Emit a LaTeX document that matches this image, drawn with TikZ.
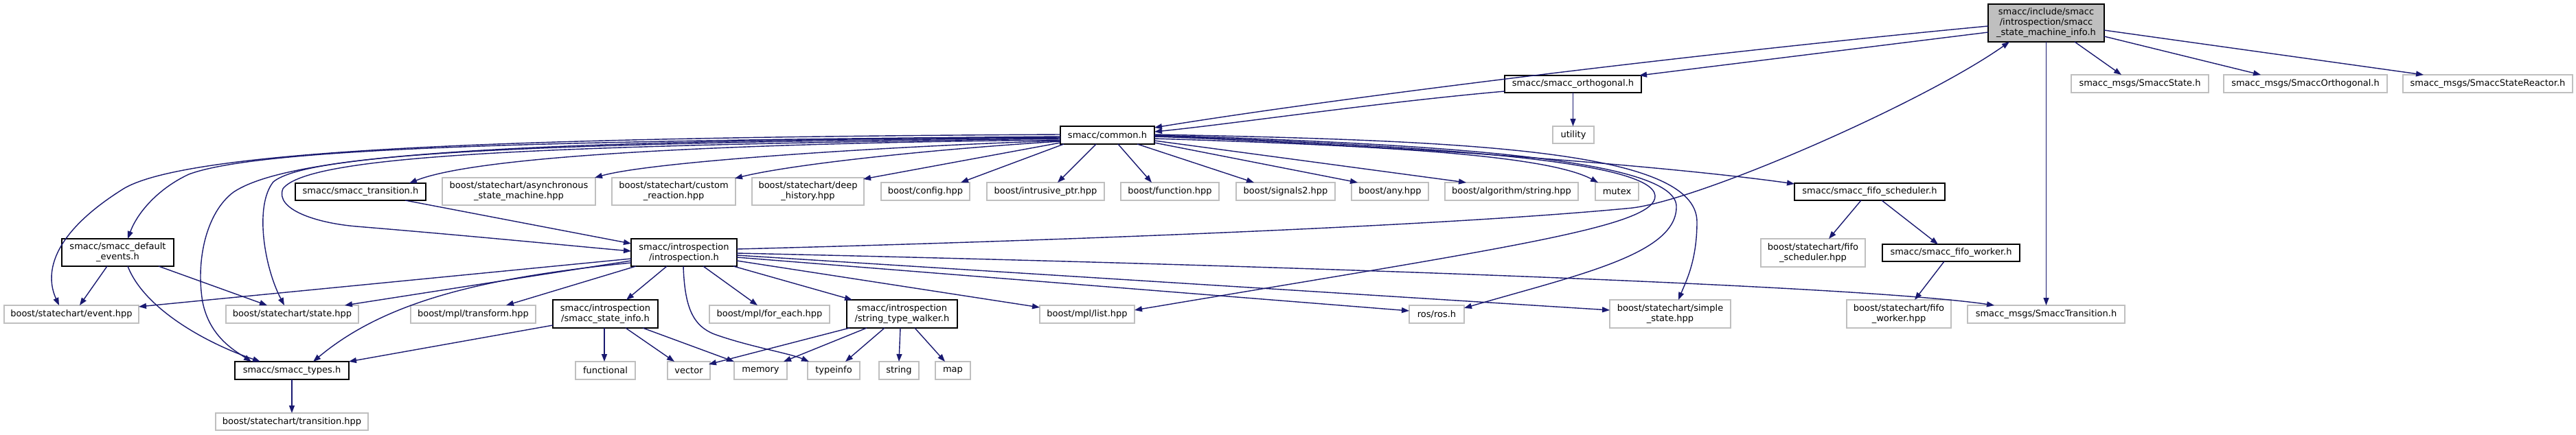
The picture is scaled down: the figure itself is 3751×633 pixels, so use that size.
\documentclass[tikz,border=0pt]{standalone}
\usepackage{fontspec}
\newfontfamily\dv{DejaVu Sans}
\usetikzlibrary{arrows.meta,calc}
\definecolor{edgeblue}{HTML}{191970}
\definecolor{extgray}{HTML}{BFBFBF}
\definecolor{mainfill}{HTML}{BFBFBF}
\tikzset{
  box/.style={anchor=north west, align=center, inner sep=0pt, outer sep=0pt,
    font={\dv\fontsize{13}{15}\selectfont}, fill=white},
  proj/.style={box, draw=black, line width=1.5pt},
  ext/.style={box, draw=extgray, line width=1.5pt},
  dep/.style={draw=edgeblue, line width=1.4pt, -{Triangle[length=11pt,width=8pt]}}
}
\begin{document}
\begin{tikzpicture}[x=1pt,y=-1pt]
\fill[white] (0,0) rectangle (3751,633);
\useasboundingbox (0,0) rectangle (3751,633);
% row 0
\node[proj, fill=mainfill, minimum width=169, minimum height=55] (main) at (2895,6) {smacc/include/smacc\\/introspection/smacc\\\_state\_machine\_info.h};
% row 1
\node[proj, minimum width=199, minimum height=25] (orth) at (2191,110) {smacc/smacc\_orthogonal.h};
\node[ext, minimum width=200, minimum height=26] (msgstate) at (3016,109) {smacc\_msgs/SmaccState.h};
\node[ext, minimum width=238, minimum height=26] (msgorth) at (3238,109) {smacc\_msgs/SmaccOrthogonal.h};
\node[ext, minimum width=247, minimum height=26] (msgreact) at (3499,109) {smacc\_msgs/SmaccStateReactor.h};
% row 2
\node[ext, minimum width=60, minimum height=25] (utility) at (2261,184) {utility};
\node[proj, minimum width=137, minimum height=26] (common) at (1544,184) {smacc/common.h};
% row 3
\node[proj, minimum width=190, minimum height=25] (transh) at (430,267) {smacc/smacc\_transition.h};
\node[ext, minimum width=223, minimum height=40] (async) at (644,259) {boost/statechart/asynchronous\\\_state\_machine.hpp};
\node[ext, minimum width=180, minimum height=40] (custom) at (891,259) {boost/statechart/custom\\\_reaction.hpp};
\node[ext, minimum width=163, minimum height=40] (deep) at (1095,259) {boost/statechart/deep\\\_history.hpp};
\node[ext, minimum width=129, minimum height=26] (config) at (1283,266) {boost/config.hpp};
\node[ext, minimum width=171, minimum height=26] (intrusive) at (1437,266) {boost/intrusive\_ptr.hpp};
\node[ext, minimum width=143, minimum height=26] (function) at (1632,266) {boost/function.hpp};
\node[ext, minimum width=144, minimum height=26] (signals) at (1800,266) {boost/signals2.hpp};
\node[ext, minimum width=112, minimum height=26] (any) at (1968,266) {boost/any.hpp};
\node[ext, minimum width=194, minimum height=26] (algo) at (2104,266) {boost/algorithm/string.hpp};
\node[ext, minimum width=63, minimum height=26] (mutex) at (2323,266) {mutex};
\node[proj, minimum width=219, minimum height=25] (fschedh) at (2613,267) {smacc/smacc\_fifo\_scheduler.h};
% row 4
\node[proj, minimum width=163, minimum height=40] (devents) at (90,348) {smacc/smacc\_default\\\_events.h};
\node[proj, minimum width=154, minimum height=40] (intro) at (919,348) {smacc/introspection\\/introspection.h};
\node[ext, minimum width=152, minimum height=41] (fschedhpp) at (2564,348) {boost/statechart/fifo\\\_scheduler.hpp};
\node[proj, minimum width=200, minimum height=25] (fworkh) at (2741,356) {smacc/smacc\_fifo\_worker.h};
% row 5
\node[ext, minimum width=196, minimum height=26] (event) at (6,445) {boost/statechart/event.hpp};
\node[ext, minimum width=193, minimum height=26] (state) at (329,445) {boost/statechart/state.hpp};
\node[ext, minimum width=182, minimum height=26] (transform) at (598,445) {boost/mpl/transform.hpp};
\node[proj, minimum width=153, minimum height=41] (stinfo) at (805,437) {smacc/introspection\\/smacc\_state\_info.h};
\node[ext, minimum width=175, minimum height=26] (foreach) at (1033,445) {boost/mpl/for\_each.hpp};
\node[proj, minimum width=161, minimum height=41] (walker) at (1233,437) {smacc/introspection\\/string\_type\_walker.h};
\node[ext, minimum width=138, minimum height=26] (list) at (1514,445) {boost/mpl/list.hpp};
\node[ext, minimum width=80, minimum height=26] (ros) at (2052,445) {ros/ros.h};
\node[ext, minimum width=176, minimum height=41] (simple) at (2344,437) {boost/statechart/simple\\\_state.hpp};
\node[ext, minimum width=152, minimum height=41] (fworkhpp) at (2689,437) {boost/statechart/fifo\\\_worker.hpp};
\node[ext, minimum width=229, minimum height=26] (smtrans) at (2865,445) {smacc\_msgs/SmaccTransition.h};
% row 6
\node[proj, minimum width=166, minimum height=26] (types) at (342,527) {smacc/smacc\_types.h};
\node[ext, minimum width=87, minimum height=26] (functional) at (838,527) {functional};
\node[ext, minimum width=62, minimum height=26] (vector) at (972,527) {vector};
\node[ext, minimum width=77, minimum height=26] (memory) at (1069,527) {memory};
\node[ext, minimum width=76, minimum height=26] (typeinfo) at (1176,527) {typeinfo};
\node[ext, minimum width=58, minimum height=26] (string) at (1280,527) {string};
\node[ext, minimum width=51, minimum height=26] (map) at (1362,527) {map};
% row 7
\node[ext, minimum width=222, minimum height=25] (trhpp) at (314,602) {boost/statechart/transition.hpp};

% ---- edges from main
\draw[dep] ($(main.north west)+(0,41)$) -- ($(orth.north west)+(196,0)$);
\draw[dep] ($(main.north west)+(0,32)$) .. controls (2400,85) and (1900,150) .. ($(common.north west)+(137,2)$);
\draw[dep] ($(main.north west)+(126,55)$) -- ($(msgstate.north west)+(73,0)$);
\draw[dep] ($(main.north west)+(169,47)$) -- ($(msgorth.north west)+(54,0)$);
\draw[dep] ($(main.north west)+(169,38)$) -- ($(msgreact.north west)+(30,0)$);
\draw[dep] (main.south) -- (smtrans.north);
% ---- orthogonal
\draw[dep] ($(orth.north west)+(0,23)$) .. controls (2000,150) and (1800,180) .. ($(common.north west)+(137,8)$);
\draw[dep] (orth.south) -- (orth.south |- utility.north);
% ---- common to the left
\draw[dep] ($(common.north west)+(0,12)$) .. controls (800,200) and (280,215) .. (180,275) .. controls (60,350) and (70,410) .. ($(event.north west)+(80,0)$);
\draw[dep] ($(common.north west)+(0,15)$) .. controls (800,205) and (380,215) .. (275,254) .. controls (230,275) and (200,310) .. ($(devents.north west)+(96,0)$);
\draw[dep] ($(common.north west)+(0,16)$) .. controls (800,205) and (430,220) .. (340,280) .. controls (300,310) and (285,380) .. (295,440) .. controls (305,490) and (340,510) .. ($(types.north west)+(24,0)$);
\draw[dep] ($(common.north west)+(0,17)$) .. controls (800,208) and (450,222) .. (398,265) .. controls (370,300) and (385,390) .. ($(state.north west)+(85,0)$);
\draw[dep] ($(common.north west)+(0,18)$) .. controls (800,212) and (450,225) .. (412,275) .. controls (400,305) and (460,325) .. (519,330) .. controls (700,345) and (850,360) .. ($(intro.north west)+(0,18)$);
\draw[dep] ($(common.north west)+(0,20)$) .. controls (1100,208) and (700,225) .. ($(transh.north west)+(166,0)$);
\draw[dep] ($(common.north west)+(0,21)$) .. controls (1300,213) and (950,235) .. ($(async.north west)+(222,0)$);
\draw[dep] ($(common.north west)+(0,22)$) .. controls (1350,218) and (1150,240) .. ($(custom.north west)+(179,1)$);
\draw[dep] ($(common.north west)+(0,24)$) -- ($(deep.north west)+(162,2)$);
\draw[dep] ($(common.north west)+(5,26)$) -- ($(config.north west)+(116,0)$);
\draw[dep] ($(common.north west)+(52,26)$) -- ($(intrusive.north west)+(103,0)$);
\draw[dep] ($(common.north west)+(84,26)$) -- ($(function.north west)+(45,0)$);
\draw[dep] ($(common.north west)+(112,26)$) -- ($(signals.north west)+(26,0)$);
\draw[dep] ($(common.north west)+(137,24)$) -- ($(any.north west)+(9,0)$);
\draw[dep] ($(common.north west)+(137,21)$) -- ($(algo.north west)+(31,0)$);
% ---- common to the right
\draw[dep] ($(common.north west)+(137,18)$) .. controls (2000,212) and (2250,225) .. ($(mutex.north west)+(4,0)$);
\draw[dep] ($(common.north west)+(137,15)$) .. controls (2100,215) and (2450,245) .. ($(fschedh.north west)+(0,1)$);
\draw[dep] ($(common.north west)+(137,14)$) .. controls (2100,213) and (2405,235) .. (2410,285) .. controls (2413,330) and (2200,360) .. ($(list.north west)+(138,7)$);
\draw[dep] ($(common.north west)+(137,13)$) .. controls (2100,210) and (2438,232) .. (2441,300) .. controls (2443,370) and (2300,400) .. ($(ros.north west)+(80,4)$);
\draw[dep] ($(common.north west)+(137,12)$) .. controls (2150,205) and (2470,220) .. (2471,323) .. controls (2471,380) and (2455,410) .. ($(simple.north west)+(100,0)$);
% ---- smacc_transition.h
\draw[dep] ($(transh.north west)+(160,25)$) -- ($(intro.north west)+(0,7)$);
% ---- introspection.h
\draw[dep] ($(intro.north west)+(154,15)$) .. controls (1500,352) and (2100,330) .. (2377,303) .. controls (2480,290) and (2800,150) .. ($(main.north west)+(31,55)$);
\draw[dep] ($(intro.north west)+(0,29)$) -- ($(event.north west)+(196,2)$);
\draw[dep] ($(intro.north west)+(0,32)$) -- ($(state.north west)+(173,0)$);
\draw[dep] ($(intro.north west)+(0,35)$) .. controls (700,405) and (560,440) .. ($(types.north west)+(114,0)$);
\draw[dep] ($(intro.north west)+(7,40)$) -- ($(transform.north west)+(139,0)$);
\draw[dep] ($(intro.north west)+(52,40)$) -- ($(stinfo.north west)+(107,0)$);
\draw[dep] ($(intro.north west)+(76,40)$) .. controls (997,450) and (1010,475) .. (1040,487) .. controls (1090,505) and (1150,515) .. ($(typeinfo.north west)+(2,0)$);
\draw[dep] ($(intro.north west)+(105,40)$) -- ($(foreach.north west)+(70,0)$);
\draw[dep] ($(intro.north west)+(149,40)$) -- ($(walker.north west)+(8,0)$);
\draw[dep] ($(intro.north west)+(154,32)$) -- ($(list.north west)+(0,3)$);
\draw[dep] ($(intro.north west)+(154,27)$) -- ($(ros.north west)+(0,8)$);
\draw[dep] ($(intro.north west)+(154,24)$) -- ($(simple.north west)+(0,15)$);
\draw[dep] ($(intro.north west)+(154,21)$) .. controls (1800,385) and (2700,415) .. ($(smtrans.north west)+(39,0)$);
% ---- smacc_state_info.h
\draw[dep] ($(stinfo.north west)+(0,37)$) -- ($(types.north west)+(166,0)$);
\draw[dep] ($(stinfo.north west)+(75,41)$) -- ($(functional.north west)+(42,0)$);
\draw[dep] ($(stinfo.north west)+(106,41)$) -- ($(vector.north west)+(10,0)$);
\draw[dep] ($(stinfo.north west)+(131,41)$) -- ($(memory.north west)+(0,0)$);
% ---- string_type_walker.h
\draw[dep] ($(walker.north west)+(4,41)$) -- ($(vector.north west)+(60,4)$);
\draw[dep] ($(walker.north west)+(29,41)$) -- ($(memory.north west)+(72,0)$);
\draw[dep] ($(walker.north west)+(55,41)$) -- ($(typeinfo.north west)+(55,0)$);
\draw[dep] ($(walker.north west)+(78,41)$) -- ($(string.north west)+(29,0)$);
\draw[dep] ($(walker.north west)+(99,41)$) -- ($(map.north west)+(14,0)$);
% ---- default events
\draw[dep] ($(devents.north west)+(66,40)$) -- ($(event.north west)+(110,0)$);
\draw[dep] ($(devents.north west)+(141,40)$) -- ($(state.north west)+(60,0)$);
\draw[dep] ($(devents.north west)+(96,40)$) .. controls (210,450) and (300,500) .. ($(types.north west)+(37,0)$);
% ---- types
\draw[dep] (types.south) -- (trhpp.north);
% ---- fifo
\draw[dep] ($(fschedh.north west)+(97,25)$) -- ($(fschedhpp.north west)+(99,0)$);
\draw[dep] ($(fschedh.north west)+(127,25)$) -- ($(fworkh.north west)+(81,0)$);
\draw[dep] ($(fworkh.north west)+(90,25)$) -- ($(fworkhpp.north west)+(99,0)$);
\end{tikzpicture}
\end{document}
